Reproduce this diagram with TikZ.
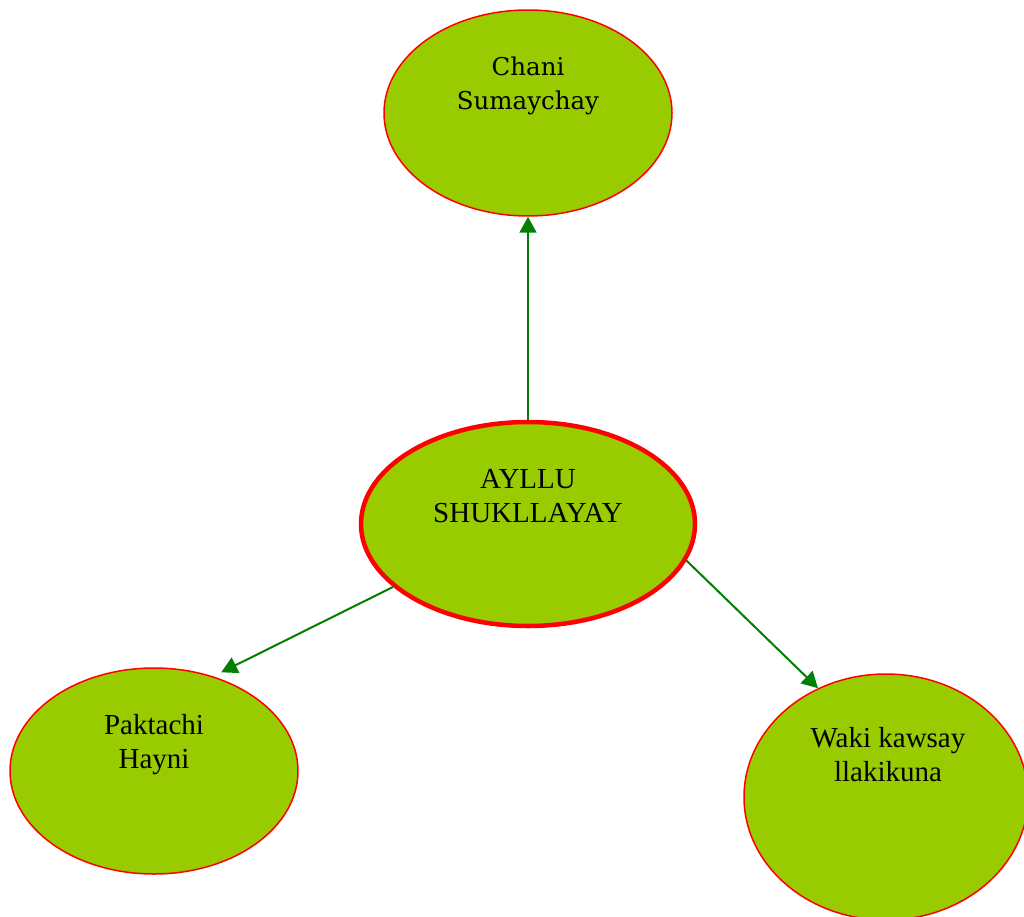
\documentclass[tikz,border=0pt]{standalone}
\usepackage{fontspec}
\newfontfamily\timesfont{Liberation Serif}
\newfontfamily\schoolfont{DejaVu Serif}
\usetikzlibrary{shapes.geometric, arrows.meta}

\definecolor{leafgreen}{HTML}{99CC00}
\definecolor{linkgreen}{HTML}{008000}

\tikzset{
	blob/.style = {ellipse, fill=leafgreen, draw=red, line width=1.5pt, inner sep=0pt},
	label text/.style = {align=center, font=\fontsize{29}{34}\selectfont\timesfont},
	link/.style = {draw=linkgreen, line width=2pt, -{Triangle[length=16pt, width=17pt]}}
}

\begin{document}
\begin{tikzpicture}[x=1pt, y=-1pt]
		%frame
		\useasboundingbox (0,0) rectangle (1024,917);
		
		%ellipses
		\node [blob, minimum width=288pt, minimum height=206pt] (sumay) at (528,113) {};
		\node [blob, line width=4.5pt, minimum width=334pt, minimum height=204pt] (ayllu) at (528,524) {};
		\node [blob, minimum width=288pt, minimum height=206pt] (hayni) at (154,771) {};
		\node [blob, minimum width=284pt, minimum height=246pt] (waki) at (886,797) {};
		
		%texts
		\node [label text, font=\fontsize{24.5}{34}\selectfont\schoolfont] (sumaytext) at (528,86) {Chani\\Sumaychay};
		\node [label text] (ayllutext) at (528,496) {AYLLU\\SHUKLLAYAY};
		\node [label text] (haynitext) at (154,745) {Paktachi\\Hayni};
		\node [label text] (wakitext) at (888,755) {Waki kawsay\\llakikuna};
		
		%arrows
		\draw [link] (ayllu.north) -- (sumay.south);
		\draw [link, shorten >=9pt] (ayllu.205) -- (hayni.58.5);
		\draw [link] (ayllu.-13.6) -- (waki.122.5);
	\end{tikzpicture}
\end{document}
